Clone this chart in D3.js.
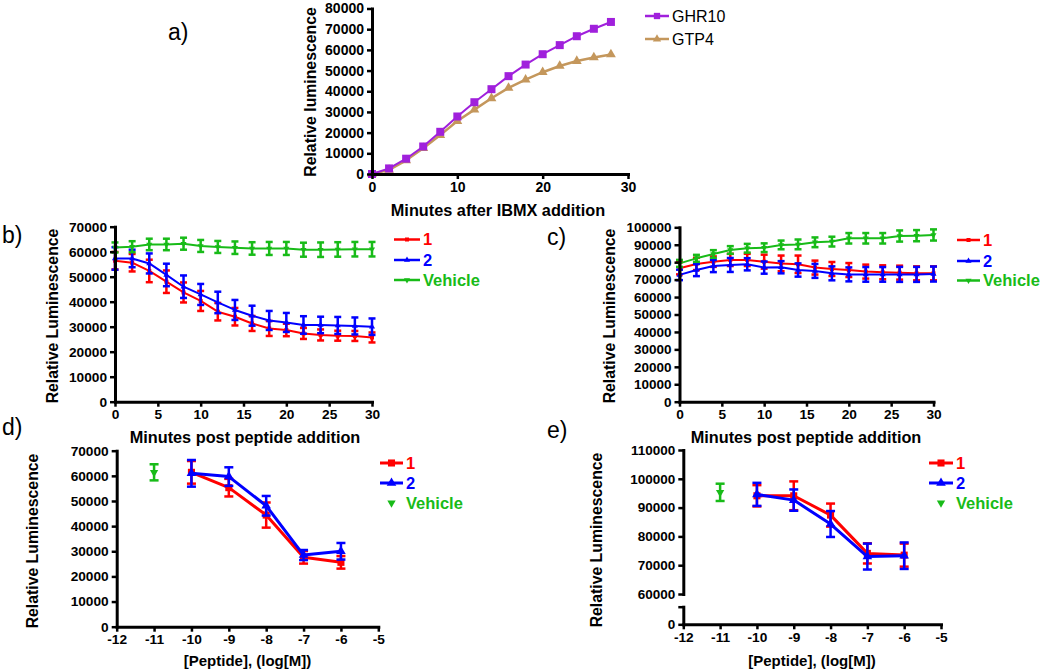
<!DOCTYPE html>
<html><head><meta charset="utf-8">
<script src="https://cdn.jsdelivr.net/npm/d3@7"></script>
<style>body{margin:0;background:#fff}svg{display:block}</style>
</head><body><svg id="chart" width="1050" height="671"></svg>
<script>
// ---------------- DATA ----------------
// panel a
const timeA = [0,2,4,6,8,10,12,14,16,18,20,22,24,26,28];
const ghr10 = [0,2700,7400,13300,20400,27800,34700,41000,47300,52900,57900,62300,66600,70200,73500];
const gtp4  = [0,2000,6600,12500,18800,25600,31100,36600,41600,45600,49200,52200,54600,56300,57800];
const ticksA_y = [0,10000,20000,30000,40000,50000,60000,70000,80000];
const ticksA_x = [0,10,20,30];
const legendA = ["GHR10","GTP4"];
// panels b & c (time course)
const timeBC = [0,2,4,6,8,10,12,14,16,18,20,22,24,26,28,30];
const b1    = [56400,55600,52300,48000,43700,40300,36000,34000,31300,29300,28700,27300,26700,26400,26300,25700];
const b1Err = [3500,3500,4500,4500,4000,4000,3500,3500,3000,3000,2500,2200,2200,2000,2000,2000];
const b2    = [57300,57300,55300,50700,46000,42900,39700,36700,34400,32500,31700,30700,30700,30500,30300,30000];
const b2Err = [4500,3500,4000,4500,4500,4200,4300,4000,4000,3800,3800,3500,3300,3400,3400,3300];
const bVeh    = [61700,62000,62900,62900,63200,62300,61900,61600,61300,61300,61300,60800,60800,60900,61000,61000];
const bVehErr = [2000,2200,2300,2300,2400,2400,2400,2500,2500,2600,2600,2800,2900,2900,2900,2900];
const c1    = [76500,79000,80300,81300,81300,80300,79300,78800,76900,76100,75500,74600,74200,74000,73600,73600];
const c1Err = [3500,3500,3000,3500,3500,4000,4500,5000,4000,4000,4000,4000,4000,4000,4000,4000];
const c2    = [72700,75500,77800,78400,78800,76900,77100,75500,75000,73600,73000,73000,73000,73000,73000,73200];
const c2Err = [3000,3500,3500,4000,3500,3500,3500,3800,4000,4000,4000,4200,4200,4300,4300,4300];
const cVeh    = [79300,82200,84700,87000,88000,88300,89900,90200,91400,91800,93700,93700,93700,95000,95200,95600];
const cVehErr = [2000,2000,2200,2200,2500,2500,2500,2800,2800,2800,3000,3000,3000,3200,3200,3200];
const ticksBC_x = [0,5,10,15,20,25,30];
const ticksB_y = [0,10000,20000,30000,40000,50000,60000,70000];
const ticksC_y = [0,10000,20000,30000,40000,50000,60000,70000,80000,90000,100000];
// panels d & e (dose response)
const dose = [-10,-9,-8,-7,-6];
const vehDose = [-11];
const d1    = [61400,55300,44400,27600,25600];
const d1Err = [4500,3500,5000,2500,2500];
const d2    = [61000,59700,48100,28500,30000];
const d2Err = [5300,3700,3900,2000,3300];
const dVeh    = [61400];
const dVehErr = [3200];
const e1    = [94100,94100,87400,74100,73500];
const e1Err = [3700,5000,4000,3500,4000];
const e2    = [94600,92600,84300,73000,73300];
const e2Err = [4000,3700,4500,4500,4600];
const eVeh    = [95300];
const eVehErr = [3000];
const ticksDE_x = [-12,-11,-10,-9,-8,-7,-6,-5];
const ticksD_y = [0,10000,20000,30000,40000,50000,60000,70000];
const ticksE_yUpper = [60000,70000,80000,90000,100000,110000];
const ticksE_yLower = [0];
const legendBCDE = ["1","2","Vehicle"];
const panelLabels = ["a)","b)","c)","d)","e)"];
const titleMinutesA = "Minutes after IBMX addition";
const titleMinutesBC = "Minutes post peptide addition";
const titleDose = "[Peptide], (log[M])";
const titleYa = "Relative luminescence";
const titleY = "Relative Luminescence";

// ---------------- STYLE ----------------
const FONT = 'Arial, "Liberation Sans", Helvetica, sans-serif';
const RED = "#ff0000", BLUE = "#0000ff", GREEN = "#18bb18", PURPLE = "#a020dc", TAN = "#c4975c";
const svg = d3.select("#chart");

function styleAxis(g, fs) {
  g.select(".domain").attr("stroke","#000").attr("stroke-width",3).attr("stroke-linecap","square");
  g.selectAll(".tick line").attr("stroke","#000").attr("stroke-width",2.5);
  g.selectAll(".tick text").attr("font-size",fs).attr("font-weight","bold").attr("fill","#000").attr("font-family",FONT);
}
function yAxis(x0, scale, ticks, fs, fmt) {
  const g = svg.append("g").attr("transform",`translate(${x0},0)`)
    .call(d3.axisLeft(scale).tickValues(ticks).tickSize(5).tickSizeOuter(0).tickPadding(3)
      .tickFormat(fmt || (d => String(d))));
  styleAxis(g, fs); return g;
}
function xAxis(y0, scale, ticks, fs) {
  const g = svg.append("g").attr("transform",`translate(0,${y0})`)
    .call(d3.axisBottom(scale).tickValues(ticks).tickSize(5).tickSizeOuter(0).tickPadding(3)
      .tickFormat(d => String(d)));
  styleAxis(g, fs); return g;
}
function symPath(type, size) { return d3.symbol().type(type).size(size)(); }

function series(x, y, xs, ys, o) {
  const g = svg.append("g");
  if (o.errs) {
    xs.forEach((xv, i) => {
      const e = o.errs[i];
      const px = x(xv), y1 = y(ys[i] + e), y2 = y(ys[i] - e);
      g.append("line").attr("x1",px).attr("x2",px).attr("y1",y1).attr("y2",y2)
        .attr("stroke",o.color).attr("stroke-width",o.errW);
      [y1,y2].forEach(yy => g.append("line").attr("x1",px-o.capW/2).attr("x2",px+o.capW/2)
        .attr("y1",yy).attr("y2",yy).attr("stroke",o.color).attr("stroke-width",o.errW));
    });
  }
  if (!o.noLine) {
    const line = d3.line().x((d,i) => x(xs[i])).y(d => y(d));
    g.append("path").attr("d", line(ys)).attr("fill","none").attr("stroke",o.color)
      .attr("stroke-width",o.lw).attr("stroke-linejoin","round");
  }
  xs.forEach((xv, i) => {
    g.append("path").attr("d", symPath(o.sym, o.size))
      .attr("transform",`translate(${x(xv)},${y(ys[i])})${o.rot ? " rotate(180)" : ""}`)
      .attr("fill",o.color);
  });
}

function legendItem(x0, x1, y, o, label, fs, weight, tcolor) {
  if (!o.noLine) svg.append("line").attr("x1",x0).attr("x2",x1).attr("y1",y).attr("y2",y)
    .attr("stroke",o.color).attr("stroke-width",o.lw);
  svg.append("path").attr("d", symPath(o.sym, o.size))
    .attr("transform",`translate(${(x0+x1)/2},${y})${o.rot ? " rotate(180)" : ""}`).attr("fill",o.color);
  svg.append("text").attr("x",x1+3).attr("y",y).attr("dy","0.36em")
    .attr("font-family",FONT).attr("font-size",fs).attr("font-weight",weight).attr("fill",tcolor)
    .text(label);
}
function title(x, y, txt, fs, rotate) {
  const t = svg.append("text").attr("font-family",FONT).attr("font-size",fs).attr("font-weight","bold")
    .attr("text-anchor","middle").attr("fill","#000").text(txt);
  if (rotate) t.attr("transform",`translate(${x},${y}) rotate(-90)`);
  else t.attr("x",x).attr("y",y);
}
function plabel(x, y, txt) {
  svg.append("text").attr("x",x).attr("y",y).attr("font-family",FONT).attr("font-size",23)
    .attr("fill","#000").text(txt);
}

// ---------------- PANEL A ----------------
{
  const x = d3.scaleLinear().domain([0,30]).range([372,628]);
  const y = d3.scaleLinear().domain([0,80000]).range([174,8.5]);
  const oG = {color:PURPLE, lw:2, sym:d3.symbolSquare, size:64};
  const oT = {color:TAN, lw:2.5, sym:d3.symbolTriangle, size:42};
  series(x, y, timeA, gtp4, oT);
  series(x, y, timeA, ghr10, oG);
  yAxis(372, y, ticksA_y, 14);
  xAxis(174, x, ticksA_x, 14);
  title(498, 216, titleMinutesA, 16.3);
  title(316, 92, titleYa, 15.8, true);
  legendItem(645, 669, 16, {color:PURPLE, lw:2.5, sym:d3.symbolSquare, size:40}, legendA[0], 16, "normal", "#000");
  legendItem(645, 669, 39, {color:TAN, lw:2.5, sym:d3.symbolTriangle, size:30}, legendA[1], 16, "normal", "#000");
  plabel(168, 40, panelLabels[0]);
}

// ---------------- PANEL B ----------------
const smallOpts = (color, sym, rot) => ({color, lw:2, sym, size:16, rot, errW:2.5, capW:7});
{
  const x = d3.scaleLinear().domain([0,30]).range([115,372]);
  const y = d3.scaleLinear().domain([0,70000]).range([401.7,226.7]);
  series(x, y, timeBC, b1, {...smallOpts(RED, d3.symbolSquare), errs:b1Err});
  series(x, y, timeBC, b2, {...smallOpts(BLUE, d3.symbolTriangle), errs:b2Err});
  series(x, y, timeBC, bVeh, {...smallOpts(GREEN, d3.symbolTriangle, true), errs:bVehErr});
  yAxis(115, y, ticksB_y, 13.7);
  xAxis(401.7, x, ticksBC_x, 13.7);
  title(245, 443, titleMinutesBC, 16.3);
  title(58, 316, titleY, 15.8, true);
  const cols = [RED, BLUE, GREEN], syms = [d3.symbolSquare, d3.symbolTriangle, d3.symbolTriangle];
  [239.5, 260, 280].forEach((yy, i) => legendItem(394, 420, yy,
    {color:cols[i], lw:2.5, sym:syms[i], size:16, rot:i===2}, legendBCDE[i], 16.5, "bold", cols[i]));
  plabel(2, 243, panelLabels[1]);
}

// ---------------- PANEL C ----------------
{
  const x = d3.scaleLinear().domain([0,30]).range([679.5,933.5]);
  const y = d3.scaleLinear().domain([0,100000]).range([401.7,227.3]);
  series(x, y, timeBC, c1, {...smallOpts(RED, d3.symbolSquare), errs:c1Err});
  series(x, y, timeBC, c2, {...smallOpts(BLUE, d3.symbolTriangle), errs:c2Err});
  series(x, y, timeBC, cVeh, {...smallOpts(GREEN, d3.symbolTriangle, true), errs:cVehErr});
  yAxis(679.5, y, ticksC_y, 13.5);
  xAxis(401.7, x, ticksBC_x, 13.7);
  title(806, 443, titleMinutesBC, 16.3);
  title(615, 316, titleY, 15.8, true);
  const cols = [RED, BLUE, GREEN], syms = [d3.symbolSquare, d3.symbolTriangle, d3.symbolTriangle];
  [240, 261, 280.5].forEach((yy, i) => legendItem(957, 980, yy,
    {color:cols[i], lw:2.5, sym:syms[i], size:16, rot:i===2}, legendBCDE[i], 16.5, "bold", cols[i]));
  plabel(547, 245, panelLabels[2]);
}

// ---------------- PANEL D ----------------
const bigOpts = (color, sym, rot) => ({color, lw:3, sym, size:50, rot, errW:2.5, capW:9});
{
  const x = d3.scaleLinear().domain([-12,-5]).range([116.7,378.3]);
  const y = d3.scaleLinear().domain([0,70000]).range([626.7,450.7]);
  series(x, y, dose, d1, {...bigOpts(RED, d3.symbolSquare), errs:d1Err});
  series(x, y, dose, d2, {...bigOpts(BLUE, d3.symbolTriangle), size:40, errs:d2Err});
  series(x, y, vehDose, dVeh, {...bigOpts(GREEN, d3.symbolTriangle, true), size:30, errs:dVehErr, noLine:true});
  yAxis(116.7, y, ticksD_y, 13.7);
  xAxis(626.7, x, ticksDE_x, 13.7);
  title(247.5, 666, titleDose, 15, false);
  title(38, 541, titleY, 15.8, true);
  legendItem(380, 403, 463, {color:RED, lw:3, sym:d3.symbolSquare, size:50}, legendBCDE[0], 16.5, "bold", RED);
  legendItem(380, 403, 483, {color:BLUE, lw:3, sym:d3.symbolTriangle, size:40}, legendBCDE[1], 16.5, "bold", BLUE);
  legendItem(380, 403, 503, {color:GREEN, lw:3, sym:d3.symbolTriangle, size:30, rot:true, noLine:true}, legendBCDE[2], 16.5, "bold", GREEN);
  plabel(2, 435, panelLabels[3]);
}

// ---------------- PANEL E (broken y axis) ----------------
{
  const x = d3.scaleLinear().domain([-12,-5]).range([683.3,941]);
  const y = d3.scaleLinear().domain([60000,110000]).range([594,450]);
  const yLow = d3.scaleLinear().domain([0,6000]).range([624.3,606.7]);
  series(x, y, dose, e1, {...bigOpts(RED, d3.symbolSquare), errs:e1Err});
  series(x, y, dose, e2, {...bigOpts(BLUE, d3.symbolTriangle), size:40, errs:e2Err});
  series(x, y, vehDose, eVeh, {...bigOpts(GREEN, d3.symbolTriangle, true), size:30, errs:eVehErr, noLine:true});
  yAxis(683.3, y, ticksE_yUpper, 13.5);
  yAxis(683.3, yLow, ticksE_yLower.concat(yLow.domain()[1]), 13.5, d => ticksE_yLower.includes(d) ? String(d) : "");
  xAxis(624.3, x, ticksDE_x, 13.7);
  title(812, 666, titleDose, 15, false);
  title(602, 540, titleY, 15.8, true);
  legendItem(929, 953, 463, {color:RED, lw:3, sym:d3.symbolSquare, size:50}, legendBCDE[0], 16.5, "bold", RED);
  legendItem(929, 953, 483, {color:BLUE, lw:3, sym:d3.symbolTriangle, size:40}, legendBCDE[1], 16.5, "bold", BLUE);
  legendItem(929, 953, 503, {color:GREEN, lw:3, sym:d3.symbolTriangle, size:30, rot:true, noLine:true}, legendBCDE[2], 16.5, "bold", GREEN);
  plabel(547, 438, panelLabels[4]);
}
</script></body></html>
